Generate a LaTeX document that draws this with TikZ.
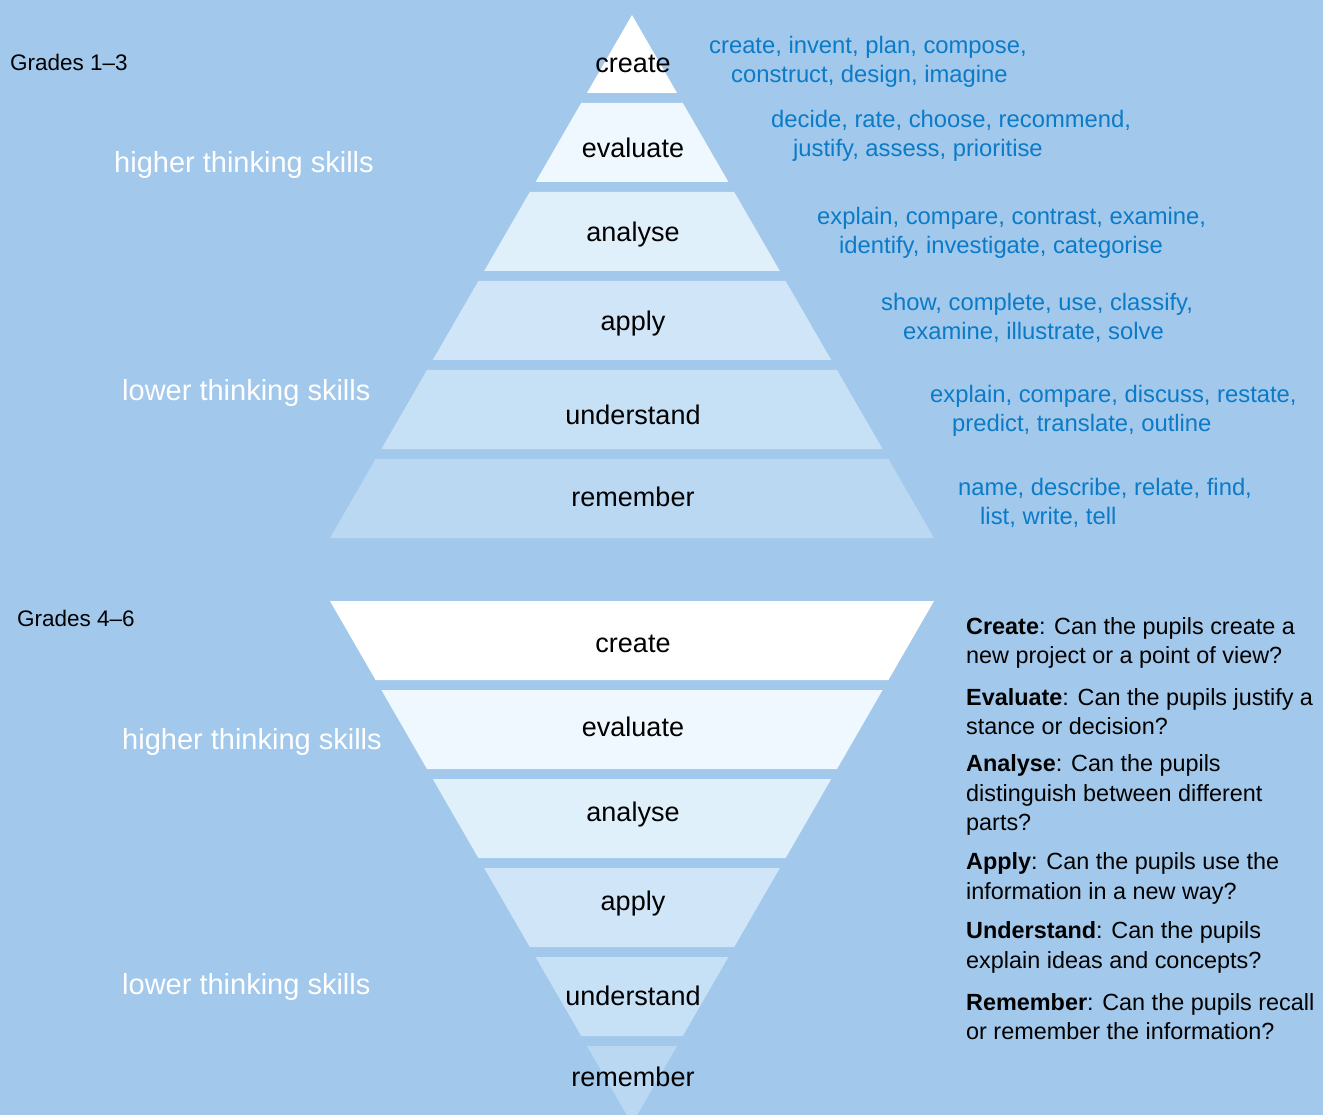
\documentclass[tikz,border=0pt]{standalone}
\usepackage{fontspec}
\setmainfont{Liberation Sans}
\definecolor{SkyBack}{HTML}{A2C8EB}
\definecolor{BandA}{HTML}{FFFFFF}
\definecolor{BandB}{HTML}{EFF8FE}
\definecolor{BandC}{HTML}{DFF0FB}
\definecolor{BandD}{HTML}{D0E6F8}
\definecolor{BandE}{HTML}{C6E0F6}
\definecolor{BandF}{HTML}{BAD8F2}
\definecolor{VerbBlue}{HTML}{0B7BC8}
\tikzset{
  band/.style={
    fill=#1,
  },
  band label/.style={
    font=\fontsize{27}{32}\selectfont,
    inner sep=0pt,
  },
  verb list/.style={
    VerbBlue,
    font=\fontsize{23.8}{29}\selectfont,
    align=left,
    anchor=west,
    inner sep=0pt,
  },
  grade label/.style={
    font=\fontsize{22.5}{27}\selectfont,
    anchor=west,
    inner sep=0pt,
  },
  skill label/.style={
    white,
    font=\fontsize{29}{34}\selectfont,
    anchor=west,
    inner sep=0pt,
  },
  question/.style={
    font=\fontsize{23.4}{29.5}\selectfont,
    align=left,
    anchor=west,
    inner sep=0pt,
  },
}

\begin{document}
\begin{tikzpicture}[x=1pt,y=-1pt]
  \fill[SkyBack] (0,0) rectangle (1323,1115);
  \useasboundingbox (0,0) rectangle (1323,1115);
  \clip (0,0) rectangle (1323,1115);

  % upper pyramid, apex at top
  \foreach \word/\col/\ytop/\ybot/\ytext [count=\i] in {
      create/BandA/15/93/64, evaluate/BandB/103/182/148,
      analyse/BandC/192/271/235, apply/BandD/281/360/324,
      understand/BandE/370/449/415, remember/BandF/459/538/497}{
    \pgfmathsetmacro\wt{(\ytop-15)*0.5775}
    \pgfmathsetmacro\wb{(\ybot-15)*0.5775}
    \fill[band=\col] (632-\wt,\ytop) -- (632+\wt,\ytop)
      -- (632+\wb,\ybot) -- (632-\wb,\ybot) -- cycle;
    \node[band label] (up\i) at (633,\ytext) {\word};
  }

  % lower pyramid, apex at bottom
  \foreach \word/\col/\ytop/\ybot/\ytext [count=\i] in {
      create/BandA/601/680/644, evaluate/BandB/690/769/727,
      analyse/BandC/779/858/815, apply/BandD/868/947/904,
      understand/BandE/957/1036/996, remember/BandF/1046/1124/1077}{
    \pgfmathsetmacro\wt{(1124-\ytop)*0.5775}
    \pgfmathsetmacro\wb{(1124-\ybot)*0.5775}
    \fill[band=\col] (632-\wt,\ytop) -- (632+\wt,\ytop)
      -- (632+\wb,\ybot) -- (632-\wb,\ybot) -- cycle;
    \node[band label] (down\i) at (633,\ytext) {\word};
  }

  % verbs beside the upper pyramid
  \node[verb list] (verbs1) at (709,61.5)
    {create, invent, plan, compose,\\\hspace*{22pt}construct, design, imagine};
  \node[verb list] (verbs2) at (771,135.5)
    {decide, rate, choose, recommend,\\\hspace*{22pt}justify, assess, prioritise};
  \node[verb list] (verbs3) at (817,232.5)
    {explain, compare, contrast, examine,\\\hspace*{22pt}identify, investigate, categorise};
  \node[verb list] (verbs4) at (881,318)
    {show, complete, use, classify,\\\hspace*{22pt}examine, illustrate, solve};
  \node[verb list] (verbs5) at (930,410.5)
    {explain, compare, discuss, restate,\\\hspace*{22pt}predict, translate, outline};
  \node[verb list] (verbs6) at (958,503)
    {name, describe, relate, find,\\\hspace*{22pt}list, write, tell};

  % left labels
  \node[grade label] (grades1) at (10,62) {Grades 1–3};
  \node[skill label] (higher1) at (114,165) {higher thinking skills};
  \node[skill label] (lower1) at (122,393) {lower thinking skills};
  \node[grade label] (grades2) at (17,618) {Grades 4–6};
  \node[skill label] (higher2) at (122,742) {higher thinking skills};
  \node[skill label] (lower2) at (122,987) {lower thinking skills};

  % questions beside the lower pyramid
  \node[question] (qcreate) at (966,643)
    {\textbf{Create}: Can the pupils create a\\new project or a point of view?};
  \node[question] (qevaluate) at (966,711.5)
    {\textbf{Evaluate}: Can the pupils justify a\\stance or decision?};
  \node[question] (qanalyse) at (966,795)
    {\textbf{Analyse}: Can the pupils\\distinguish between different\\parts?};
  \node[question] (qapply) at (966,878.5)
    {\textbf{Apply}: Can the pupils use the\\information in a new way?};
  \node[question] (qunderstand) at (966,947.5)
    {\textbf{Understand}: Can the pupils\\explain ideas and concepts?};
  \node[question] (qremember) at (966,1016.5)
    {\textbf{Remember}: Can the pupils recall\\or remember the information?};
\end{tikzpicture}
\end{document}
